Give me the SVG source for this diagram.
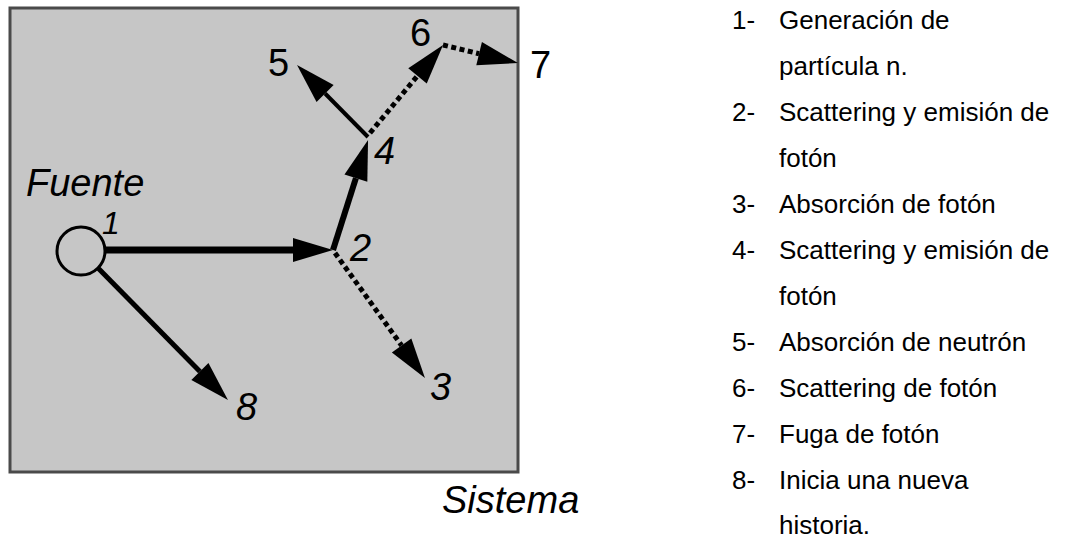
<svg xmlns="http://www.w3.org/2000/svg" width="1065" height="538" viewBox="0 0 1065 538">
  <style>
    .lbl { font-family: "Liberation Sans", Arial, sans-serif; font-size: 38px; fill: #000; }
    .it { font-style: italic; }
    .leg { font-family: "Liberation Sans", Arial, sans-serif; font-size: 26px; fill: #000; }
    .solid { stroke: #000; fill: none; }
    .dot { stroke: #000; fill: none; stroke-width: 5; stroke-dasharray: 5 3.5; }
  </style>
  <defs>
    <marker id="ah" markerUnits="userSpaceOnUse" markerWidth="40" markerHeight="24" viewBox="0 0 40 24" refX="0" refY="12" orient="auto" overflow="visible">
      <path d="M0,0 L40,12 L0,24 Z" fill="#000"/>
    </marker>
  </defs>

  <g id="sistema">
    <rect x="10" y="8" width="508" height="464" fill="#c6c6c6" stroke="#4a4a4a" stroke-width="3"/>
    <text class="lbl it" x="442" y="513">Sistema</text>
  </g>

  <g id="fuente">
    <circle cx="81" cy="251" r="24" fill="none" stroke="#000" stroke-width="3"/>
    <text class="lbl it" x="26" y="196">Fuente</text>
    <text class="lbl it" x="102" y="234" style="font-size:32px">1</text>
  </g>

  <g id="connectors">
    <line class="solid" x1="105" y1="250" x2="293" y2="250" stroke-width="7" marker-end="url(#ah)"/>
    <line class="solid" x1="333" y1="250" x2="355.9" y2="178.1" stroke-width="6" marker-end="url(#ah)"/>
    <line class="solid" x1="368" y1="137" x2="325.1" y2="93.5" stroke-width="4" marker-end="url(#ah)"/>
    <line class="dot" x1="370" y1="133" x2="417.5" y2="75.8" marker-end="url(#ah)"/>
    <line class="dot" x1="443" y1="45" x2="479.1" y2="53.7" marker-end="url(#ah)"/>
    <line class="dot" x1="335" y1="253" x2="401.6" y2="345.5" marker-end="url(#ah)"/>
    <line class="solid" x1="98" y1="268" x2="199.9" y2="371.5" stroke-width="5" marker-end="url(#ah)"/>
  </g>

  <g id="n2"><text class="lbl it" x="350" y="261">2</text></g>
  <g id="n3"><text class="lbl it" x="430" y="400">3</text></g>
  <g id="n4"><text class="lbl it" x="374" y="164">4</text></g>
  <g id="n5"><text class="lbl" x="268" y="76">5</text></g>
  <g id="n6"><text class="lbl" x="410" y="46">6</text></g>
  <g id="n7"><text class="lbl" x="530" y="78">7</text></g>
  <g id="n8"><text class="lbl it" x="236" y="420">8</text></g>

  <g id="legend">
    <text class="leg" x="732" y="29">1-</text><text class="leg" x="779" y="29">Generación de</text>
    <text class="leg" x="779" y="75">partícula n.</text>
    <text class="leg" x="732" y="121">2-</text><text class="leg" x="779" y="121">Scattering y emisión de</text>
    <text class="leg" x="779" y="167">fotón</text>
    <text class="leg" x="732" y="213">3-</text><text class="leg" x="779" y="213">Absorción de fotón</text>
    <text class="leg" x="732" y="259">4-</text><text class="leg" x="779" y="259">Scattering y emisión de</text>
    <text class="leg" x="779" y="305">fotón</text>
    <text class="leg" x="732" y="351">5-</text><text class="leg" x="779" y="351">Absorción de neutrón</text>
    <text class="leg" x="732" y="397">6-</text><text class="leg" x="779" y="397">Scattering de fotón</text>
    <text class="leg" x="732" y="443">7-</text><text class="leg" x="779" y="443">Fuga de fotón</text>
    <text class="leg" x="732" y="489">8-</text><text class="leg" x="779" y="489">Inicia una nueva</text>
    <text class="leg" x="779" y="534">historia.</text>
  </g>
</svg>
